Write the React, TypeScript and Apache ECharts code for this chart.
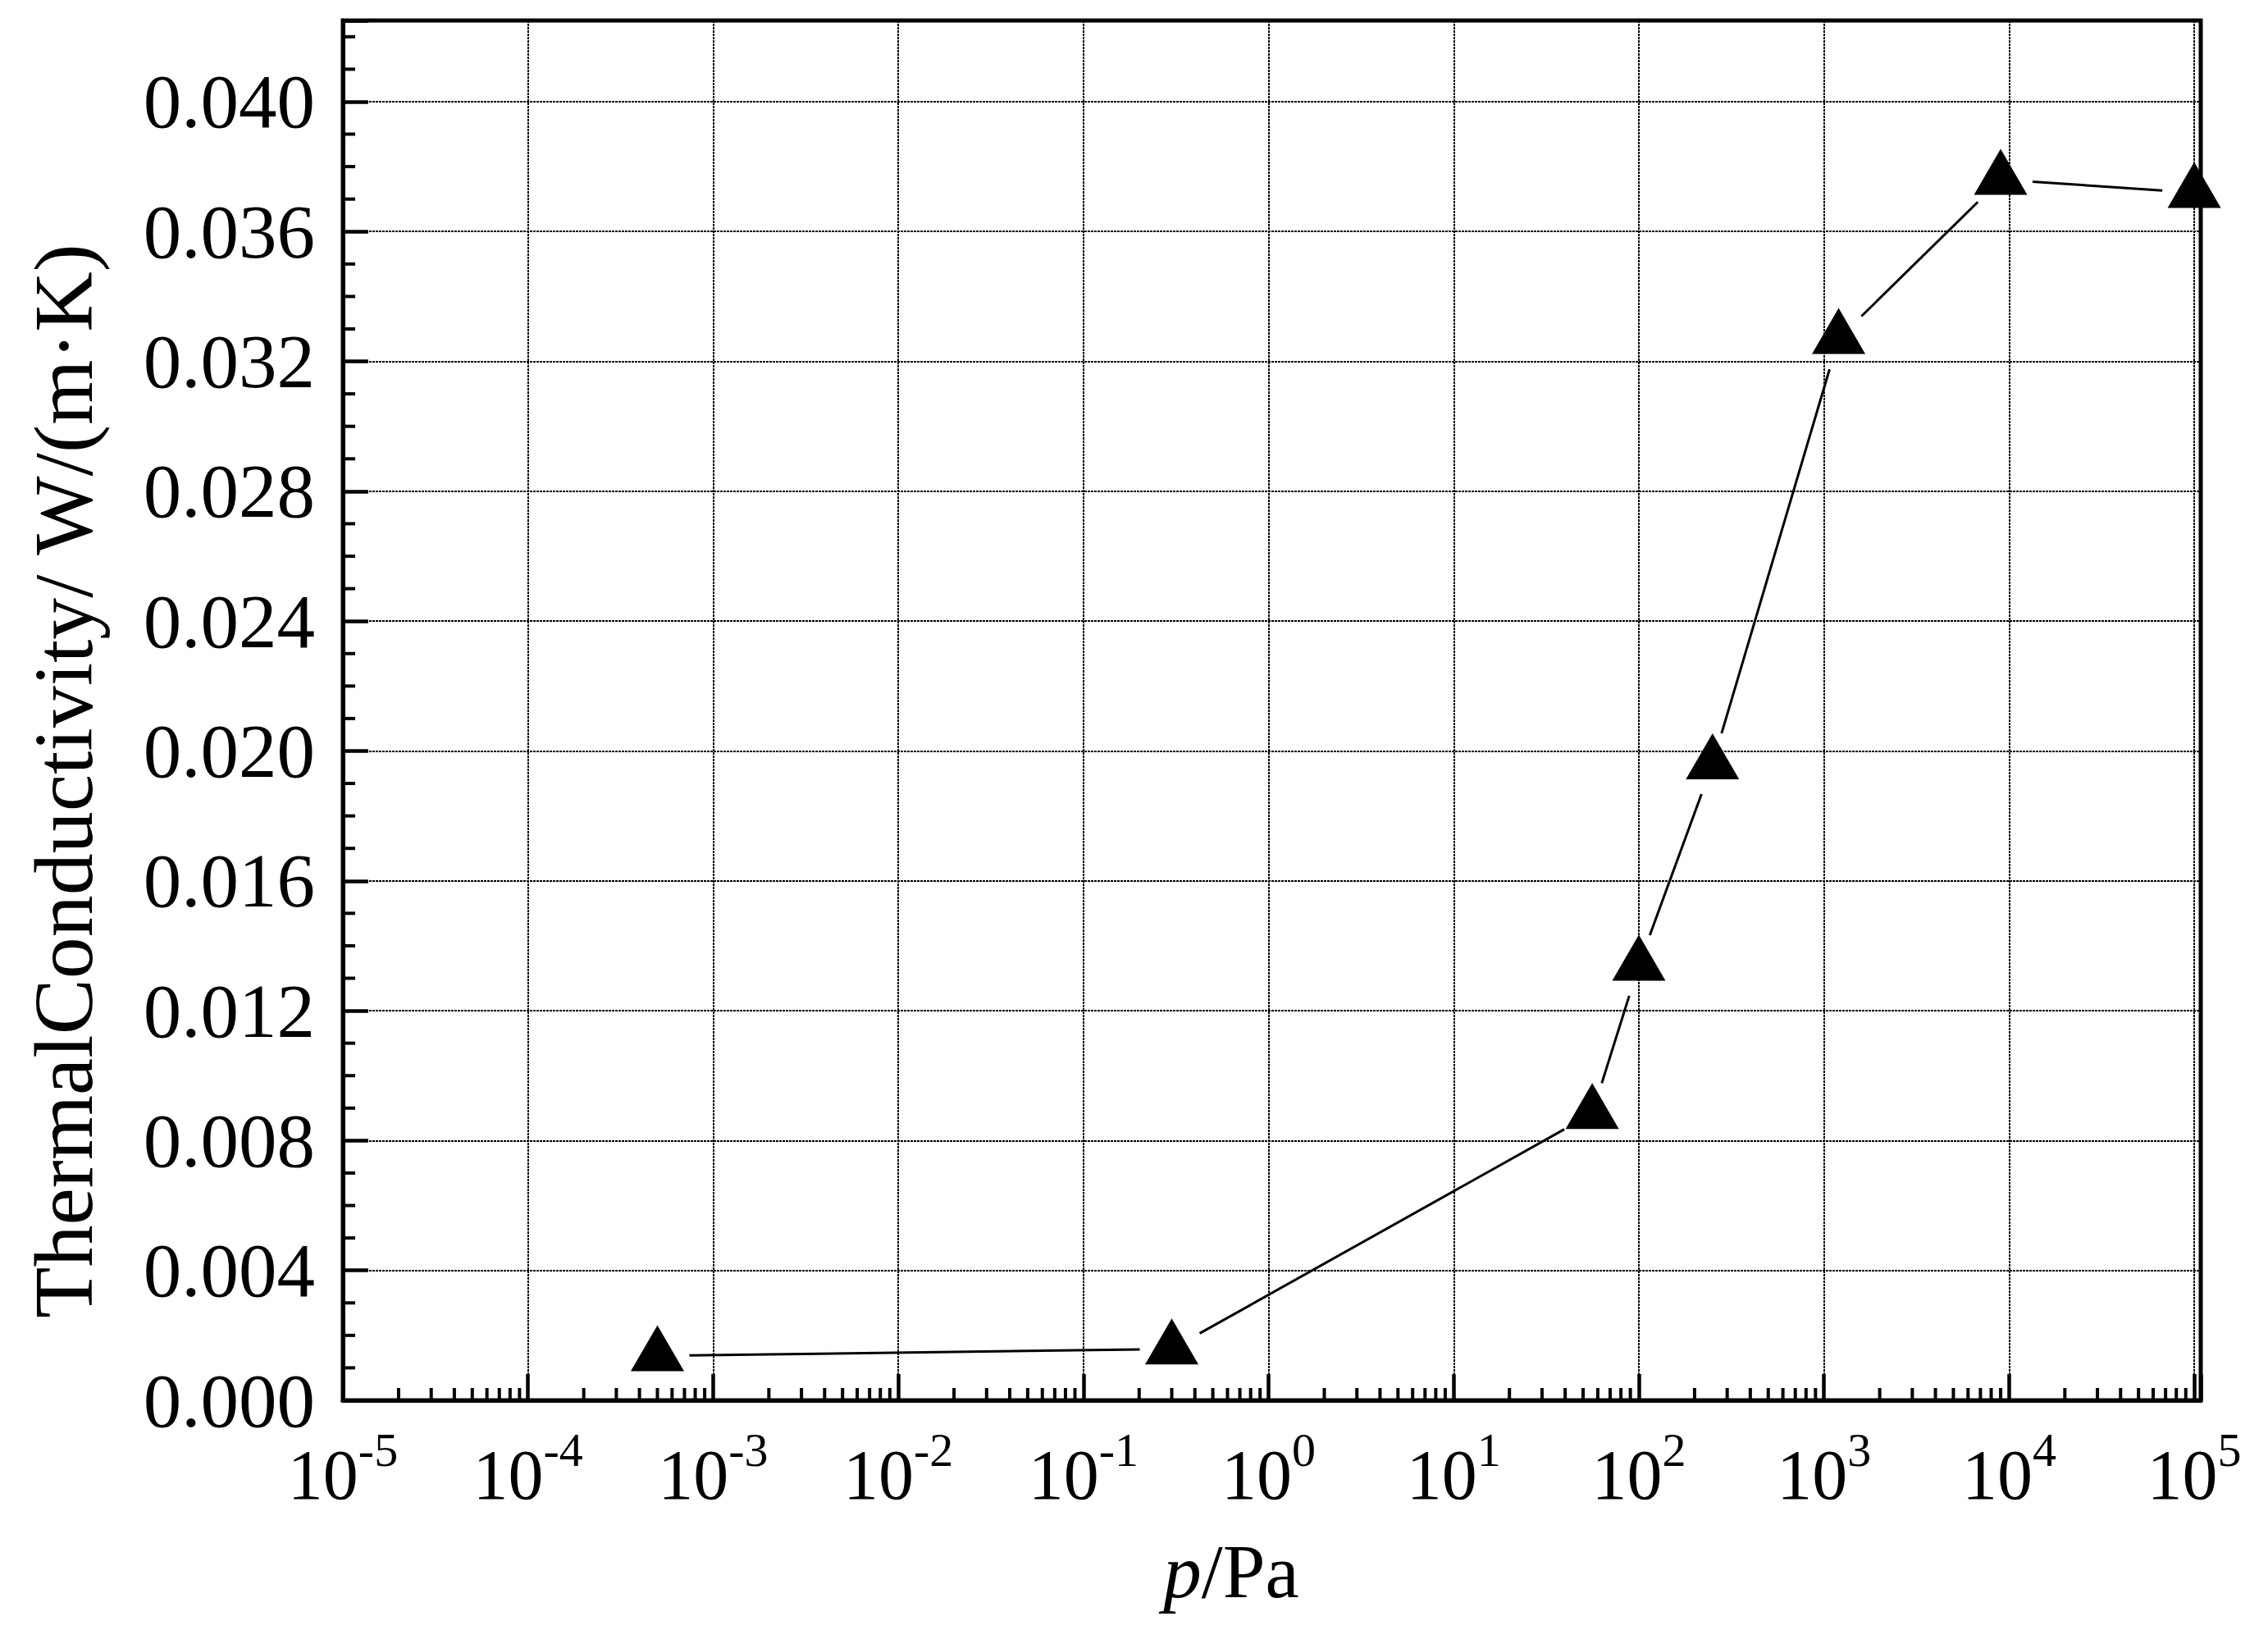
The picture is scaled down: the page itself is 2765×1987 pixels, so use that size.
import React, { useEffect, useRef } from 'react';
import * as echarts from 'echarts';

// ---- data ----
const pressurePa: number[] = [5e-4, 0.3, 56, 100, 250, 1200, 9000, 1e5];
const conductivity: number[] = [0.00137, 0.00158, 0.00883, 0.0134, 0.0196, 0.0327, 0.0376, 0.0372];

// ---- axes ----
const xMin = 1e-5;
const xMax = 1.084e5;
const decadeExponents: number[] = [-5, -4, -3, -2, -1, 0, 1, 2, 3, 4, 5];
const minorMultipliers: number[] = [2, 3, 4, 5, 6, 7, 8, 9];
const yMin = 0;
const yMax = 0.0425;
const yStep = 0.004;
const yMinorStep = 0.001;

const xTitleItalic = 'p';
const xTitleRest = '/Pa';
const yTitle = 'ThermalConductivity/ W/(m·K)';

const FONT = '"Liberation Serif", "Times New Roman", serif';

export default function App() {
  const ref = useRef<HTMLDivElement>(null);

  useEffect(() => {
    if (!ref.current) return;
    const chart = echarts.init(ref.current, null, { renderer: 'svg' });

    const points = pressurePa.map((p, i) => [p, conductivity[i]]);
    const segments: number[][] = [];
    for (let i = 0; i < points.length - 1; i++) {
      segments.push([points[i][0], points[i][1], points[i + 1][0], points[i + 1][1]]);
    }

    const xMinor: number[][] = [];
    decadeExponents.slice(0, -1).forEach((e) => {
      minorMultipliers.forEach((m) => xMinor.push([m * Math.pow(10, e), yMin]));
    });
    const yMinor: number[][] = [];
    for (let k = 1; k * yMinorStep < yMax; k++) {
      if (k % 4 !== 0) yMinor.push([xMin, +(k * yMinorStep).toFixed(4)]);
    }

    const gap = 39;
    const gridLine = { color: '#000', width: 2, type: [3, 1] };

    chart.setOption({
      animation: false,
      backgroundColor: '#fff',
      grid: {
        left: 418,
        right: 2765 - 2683,
        top: 25,
        bottom: 1987 - 1707,
        show: true,
        borderColor: '#000',
        borderWidth: 5,
        backgroundColor: 'transparent',
        containLabel: false,
        outerBoundsMode: 'none',
      },
      xAxis: {
        type: 'log',
        logBase: 10,
        min: xMin,
        max: xMax,
        interval: 1,
        axisLine: { show: true, onZero: false, lineStyle: { color: '#000', width: 5 } },
        axisTick: { show: true, inside: true, length: 32, lineStyle: { color: '#000', width: 4.5 } },
        minorTick: { show: false },
        splitLine: { show: true, lineStyle: gridLine },
        axisLabel: {
          margin: 31,
          interval: 0,
          hideOverlap: false,
          color: '#000',
          formatter: (v: number) => {
            const lg = Math.log10(v);
            const e = Math.round(lg);
            if (Math.abs(lg - e) > 1e-6) return '';
            return '{b|10}{s|' + String(e) + '}';
          },
          rich: {
            b: { fontFamily: FONT, fontSize: 86, lineHeight: 119, color: '#000' },
            s: { fontFamily: FONT, fontSize: 58, lineHeight: 58, verticalAlign: 'top', color: '#000' },
          },
        },
      },
      yAxis: {
        type: 'value',
        min: yMin,
        max: yMax,
        interval: yStep,
        axisLine: { show: true, onZero: false, lineStyle: { color: '#000', width: 5 } },
        axisTick: { show: true, inside: true, length: 31, lineStyle: { color: '#000', width: 4.5 } },
        minorTick: { show: false },
        splitLine: { show: true, lineStyle: gridLine },
        axisLabel: {
          margin: 34,
          color: '#000',
          fontFamily: FONT,
          fontSize: 93,
          formatter: (v: number) => {
            const r = v / yStep;
            if (Math.abs(r - Math.round(r)) > 1e-6) return '';
            return v.toFixed(3);
          },
        },
      },
      graphic: [
        {
          type: 'text',
          x: 1501,
          y: 1915,
          style: {
            text: '{i|' + xTitleItalic + '}{n|' + xTitleRest + '}',
            align: 'center',
            verticalAlign: 'middle',
            fill: '#000',
            font: '93px ' + FONT,
            rich: {
              i: { fontFamily: FONT, fontSize: 93, fontStyle: 'italic', fill: '#000' },
              n: { fontFamily: FONT, fontSize: 93, fill: '#000' },
            },
          },
        },
        {
          type: 'text',
          x: 77,
          y: 952,
          rotation: Math.PI / 2,
          style: {
            text: yTitle,
            align: 'center',
            verticalAlign: 'middle',
            fill: '#000',
            fontFamily: FONT,
            fontSize: 102,
          },
        },
      ],
      series: [
        {
          type: 'custom',
          name: 'xMinorTicks',
          data: xMinor,
          encode: { x: 0, y: 1 },
          silent: true,
          clip: false,
          renderItem: (_p: any, api: any) => {
            const c = api.coord([api.value(0), api.value(1)]);
            return {
              type: 'line',
              shape: { x1: c[0], y1: c[1], x2: c[0], y2: c[1] - 15 },
              style: { stroke: '#000', lineWidth: 4 },
            };
          },
        },
        {
          type: 'custom',
          name: 'yMinorTicks',
          data: yMinor,
          encode: { x: 0, y: 1 },
          silent: true,
          clip: false,
          renderItem: (_p: any, api: any) => {
            const c = api.coord([api.value(0), api.value(1)]);
            return {
              type: 'line',
              shape: { x1: c[0], y1: c[1], x2: c[0] + 15, y2: c[1] },
              style: { stroke: '#000', lineWidth: 4 },
            };
          },
        },
        {
          type: 'custom',
          name: 'connector',
          data: segments,
          encode: { x: [0, 2], y: [1, 3] },
          silent: true,
          renderItem: (_p: any, api: any) => {
            const a = api.coord([api.value(0), api.value(1)]);
            const b = api.coord([api.value(2), api.value(3)]);
            const dx = b[0] - a[0];
            const dy = b[1] - a[1];
            const len = Math.hypot(dx, dy);
            if (len <= 2 * gap) return null;
            const ux = dx / len;
            const uy = dy / len;
            return {
              type: 'line',
              shape: {
                x1: a[0] + ux * gap,
                y1: a[1] + uy * gap,
                x2: b[0] - ux * gap,
                y2: b[1] - uy * gap,
              },
              style: { stroke: '#000', lineWidth: 3 },
            };
          },
        },
        {
          type: 'scatter',
          name: 'Thermal conductivity',
          data: points,
          symbol: 'triangle',
          symbolSize: [65, 56],
          symbolOffset: [0, -9.3],
          itemStyle: { color: '#000', opacity: 1 },
          z: 5,
        },
      ],
    });

    return () => {
      chart.dispose();
    };
  }, []);

  return (
    <div
      ref={ref}
      style={{ position: 'absolute', left: 0, top: 0, width: 2765, height: 1987, background: '#fff' }}
    />
  );
}
